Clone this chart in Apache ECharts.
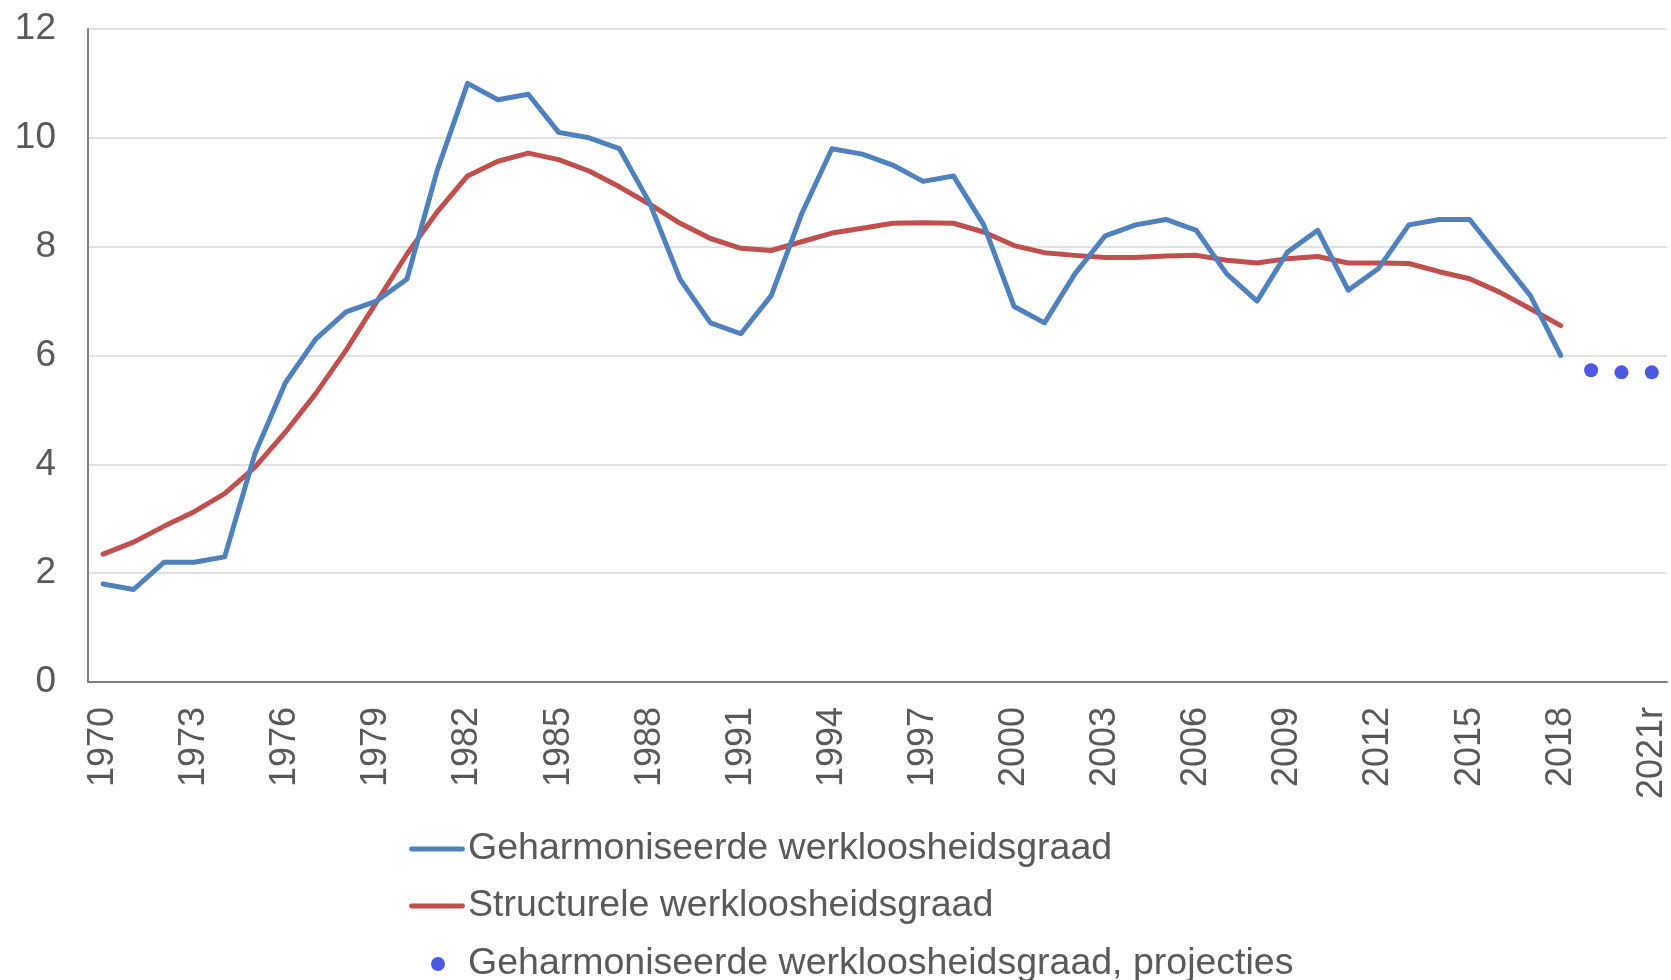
<!DOCTYPE html>
<html>
<head>
<meta charset="utf-8">
<script src="https://cdn.jsdelivr.net/npm/echarts@6/dist/echarts.min.js"></script>
<style>
html,body{margin:0;padding:0;background:#fff;}
#chart{width:1671px;height:980px;}
</style>
</head>
<body>
<div id="chart"></div>
<script>
const years = ['1970','1971','1972','1973','1974','1975','1976','1977','1978','1979',
  '1980','1981','1982','1983','1984','1985','1986','1987','1988','1989',
  '1990','1991','1992','1993','1994','1995','1996','1997','1998','1999',
  '2000','2001','2002','2003','2004','2005','2006','2007','2008','2009',
  '2010','2011','2012','2013','2014','2015','2016','2017','2018','2019',
  '2020','2021r'];

const harmonised = [1.8,1.7,2.2,2.2,2.3,4.2,5.5,6.3,6.8,7.0,
  7.4,9.4,11.0,10.7,10.8,10.1,10.0,9.8,8.8,7.4,
  6.6,6.4,7.1,8.6,9.8,9.7,9.5,9.2,9.3,8.4,
  6.9,6.6,7.5,8.2,8.4,8.5,8.3,7.5,7.0,7.9,
  8.3,7.2,7.6,8.4,8.5,8.5,7.8,7.1,6.0,null,
  null,null];

const structural = [2.35,2.57,2.86,3.13,3.46,3.95,4.59,5.3,6.1,6.98,
  7.86,8.64,9.3,9.57,9.72,9.6,9.39,9.1,8.78,8.43,
  8.15,7.97,7.93,8.09,8.25,8.34,8.43,8.44,8.43,8.27,
  8.02,7.89,7.84,7.8,7.8,7.83,7.84,7.75,7.70,7.78,
  7.82,7.70,7.70,7.69,7.54,7.41,7.16,6.86,6.55,null,
  null,null];

const projections = [null,null,null,null,null,null,null,null,null,null,
  null,null,null,null,null,null,null,null,null,null,
  null,null,null,null,null,null,null,null,null,null,
  null,null,null,null,null,null,null,null,null,null,
  null,null,null,null,null,null,null,null,null,5.73,
  5.69,5.69];

const yTicks = [0, 2, 4, 6, 8, 10, 12];

const names = ['Geharmoniseerde werkloosheidsgraad','Structurele werkloosheidsgraad','Geharmoniseerde werkloosheidsgraad, projecties'];

const font = '"Liberation Sans", Arial, Helvetica, sans-serif';
const lineIcon = 'path://M2,0 L54,0 A2.5,2.5 0 0 1 54,5 L2,5 A2.5,2.5 0 0 1 2,0 Z';
const legendBase = (left, top, item, padLeft) => ({
  orient:'vertical', left:left, top:top, padding:0,
  itemWidth:56, itemHeight:14,
  textStyle:{fontSize:37.5, color:'#595959', fontFamily:font, padding:[0,0,0,padLeft]},
  data:[item]
});
const chart = echarts.init(document.getElementById('chart'), null, {renderer:'canvas'});
chart.setOption({
  animation:false,
  backgroundColor:'#ffffff',
  textStyle:{fontFamily:font},
  grid:{left:88, top:29, right:4, bottom:298, containLabel:false},
  legend:[
    legendBase(409, 830, {name:names[0], icon:lineIcon, itemStyle:{color:'#4f81bd'}}, -2),
    legendBase(409, 887, {name:names[1], icon:lineIcon, itemStyle:{color:'#c0504d'}}, -2),
    legendBase(431, 945, {name:names[2], icon:'circle', itemStyle:{color:'#2030d8'}}, -3)
  ],
  xAxis:{
    type:'category', data:years, boundaryGap:true,
    axisLine:{lineStyle:{color:'#808080', width:2}},
    axisTick:{show:false},
    axisLabel:{interval:2, rotate:90, fontSize:36, color:'#595959', margin:25, fontFamily:font}
  },
  yAxis:{
    type:'value', min:yTicks[0], max:yTicks[yTicks.length-1], interval:2,
    axisLine:{show:true, lineStyle:{color:'#808080', width:2}},
    axisTick:{show:false},
    axisLabel:{fontSize:37, color:'#595959', margin:32, fontFamily:font},
    splitLine:{lineStyle:{color:'#d9d9d9', width:1.5}}
  },
  series:[
    {name:names[0], type:'line', data:harmonised, symbol:'none', color:'#4f81bd',
     lineStyle:{width:5, color:'#4f81bd', cap:'round', join:'round'}, z:3},
    {name:names[1], type:'line', data:structural, symbol:'none', color:'#c0504d',
     lineStyle:{width:5, color:'#c0504d', cap:'round', join:'round'}, z:2},
    {name:names[2], type:'scatter', data:projections, symbol:'circle', symbolSize:14,
     itemStyle:{color:'#2030d8'}, z:4}
  ]
});
</script>
</body>
</html>
